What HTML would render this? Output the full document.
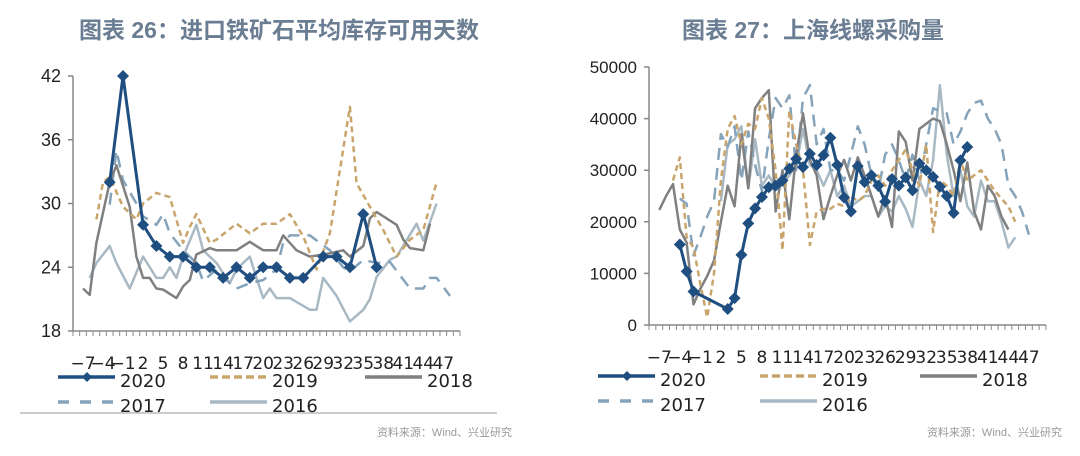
<!DOCTYPE html>
<html><head><meta charset="utf-8">
<style>
body{margin:0;background:#fff;width:1080px;height:456px;overflow:hidden;font-family:"Liberation Sans","Noto Sans CJK SC",sans-serif;}
svg{position:absolute;left:0;top:0;}
</style></head>
<body>
<svg id="root" width="1080" height="456">
  <text x="279" y="38" text-anchor="middle" font-size="23" font-weight="bold" fill="#6a7d92" font-family="Liberation Sans, Noto Sans CJK SC, sans-serif">图表 26：进口铁矿石平均库存可用天数</text>
  <text x="813" y="38" text-anchor="middle" font-size="23" font-weight="bold" fill="#6a7d92" font-family="Liberation Sans, Noto Sans CJK SC, sans-serif">图表 27：上海线螺采购量</text>
  <line x1="20" y1="413" x2="497" y2="413" stroke="#bbb" stroke-width="1.5"/>
  <text x="512" y="436" text-anchor="end" font-size="11" fill="#999" font-family="Liberation Sans, Noto Sans CJK SC, sans-serif">资料来源：Wind、兴业研究</text>
  <text x="1062" y="436" text-anchor="end" font-size="11" fill="#999" font-family="Liberation Sans, Noto Sans CJK SC, sans-serif">资料来源：Wind、兴业研究</text>
  <g id="left"></g>
  <g id="right"></g>
</svg>
<script>
// ---- shared categories ----
const weeks = []; for (let w = -8; w <= 49; w++) weeks.push(w);
const tickWeeks = [-7,-4,-1,2,5,8,11,14,17,20,23,26,29,32,35,38,41,44,47];
const seriesNames = ['2020','2019','2018','2017','2016'];

// ---- left chart data (库存可用天数) ----
const leftTicks = [18,24,30,36,42];
const L2020w = [-3,-1,2,4,6,8,10,12,14,16,18,20,22,24,26,29,31,33,35,37];
const L2020v = [32,42,28,26,25,25,24,24,23,24,23,24,24,23,23,25,25,24,29,24];
const L2019w = [-5,-4,-3,-1,1,2,4,6,8,9,10,12,13,16,18,20,22,24,26,28,30,33,34,36,38,40,42,44,46];
const L2019v = [28.5,32,32.5,29.7,28.5,30,31,30.6,26.3,27.8,29,26.3,26.6,28.1,27.2,28.1,28.1,29,26.9,23.8,27.2,39.1,31.9,29.7,27.5,25,26.6,27.5,32];
const L2018w = [-7,-6,-5,-3,-2,0,1,2,3,4,5,7,8,9,10,12,13,16,18,20,22,23,25,27,30,32,33,35,36,37,40,41,42,44,45];
const L2018v = [22,21.4,26.3,32,33.6,29.7,25,23,23,22,21.9,21.1,22.2,22.8,25.2,25.8,25.6,25.6,26.4,25.6,25.6,27,25.6,25,25.3,25.6,25,26,28.6,29.2,28,26.6,25.8,25.6,28.1];
const L2017w = [-3,-2,-1,1,2,4,5,6,8,10,11,13,15,16,18,20,22,23,24,27,30,32,33,35,37,39,42,44,45,46,48];
const L2017v = [29.9,35,32.2,30,28.8,28,29,27.2,25.6,24.4,22.7,23.8,22.5,22,22.5,22.8,23.8,26.3,27,27,25.6,24,23.6,24.7,24.4,24.5,22,22,23,23,21.3];
const L2016w = [-6,-5,-3,-2,0,2,4,5,6,7,8,10,11,13,15,16,18,19,20,21,22,24,27,28,29,31,33,35,36,37,39,40,43,44,46];
const L2016v = [23,24.4,26,24.4,22,25,23,23,24,23,25,28,25.6,24.4,22.5,23.8,25,23,21.1,22,21.1,21.1,20,20,23,21.3,18.9,20,21,23.1,24.7,25,28.1,26.5,30];

// ---- right chart data (采购量) ----
const rightTicks = [0,10000,20000,30000,40000,50000];
const R2020w = [-4,-3,-2,3,4,5,6,7,8,9,10,11,12,13,14,15,16,17,18,19,20,21,22,23,24,25,26,27,28,29,30,31,32,33,34,35,36,37,38];
const R2020v = [15600,10400,6500,3100,5200,13600,19700,22600,24800,26700,27000,28000,30300,32200,30600,33200,31000,32900,36300,31000,24700,22000,30800,27700,29000,27000,23900,28300,27000,28600,26100,31300,30000,28700,26800,25000,21700,31900,34500];
const R2019w = [-5,-4,-3,-2,-1,0,1,2,3,4,5,6,7,8,9,10,11,12,13,14,15,16,17,18,19,20,21,22,23,24,25,26,27,28,29,30,31,32,33,34,35,36,37,38,39,40,41,42,43,44,45];
const R2019v = [28000,32500,17000,15000,8000,1500,10000,28000,38000,40500,35000,39000,38000,44000,40000,30000,14500,41500,35000,30000,15500,22000,22500,22500,23500,23000,25000,24000,25000,28000,29000,27000,30000,32000,34000,30000,27000,35000,18000,28000,27000,25000,32000,28000,29000,30000,28000,26000,24500,23000,20000];
const R2018w = [-7,-6,-5,-4,-3,-2,-1,0,1,2,3,4,5,6,7,8,9,10,11,12,13,14,15,16,17,18,19,20,21,22,23,24,25,26,27,28,29,30,31,32,33,34,35,36,37,38,39,40,41,42,43,44];
const R2018v = [22300,25000,27300,18500,16000,4000,7000,9500,12500,20000,27000,23000,37000,26500,42000,44000,45500,22000,30000,20500,33000,41000,32000,29000,20500,25000,29000,32000,28000,32500,29000,25000,21000,25000,19000,37500,35500,28000,38000,39000,40000,39500,35000,30000,24000,31500,22000,18500,27000,25000,21000,18500];
const R2017w = [-4,-3,-2,-1,0,1,2,3,4,5,6,7,8,9,10,11,12,13,14,15,16,17,18,19,20,21,22,23,24,25,26,27,28,29,30,31,32,33,34,35,36,37,38,39,40,41,42,43,44,45,46,47];
const R2017v = [24500,23500,13500,17000,21000,24000,37000,34500,38500,28000,37500,31000,26000,36000,44000,42000,44500,30000,44000,46500,35000,38000,30000,30000,28000,33000,38500,35000,29000,26000,33000,35000,32000,28000,33000,28000,35000,42000,41500,41000,35000,37500,41000,43000,43500,40000,38000,35000,27000,25000,22000,17500];
const R2016w = [2,3,4,5,6,7,8,9,10,11,12,13,14,15,16,17,18,19,20,21,22,23,24,25,26,27,28,29,30,31,32,33,34,35,36,37,38,39,40,41,42,43,44,45];
const R2016v = [24000,35000,36000,38500,26500,36000,27000,29000,26500,27000,29000,31000,38000,31000,30000,27000,30000,25000,27000,23000,24000,25000,25000,21000,23000,22000,25000,22500,19000,28000,25000,32000,46500,33000,25000,30000,23000,21000,28000,24000,24000,20000,15000,17000];

const NS = 'http://www.w3.org/2000/svg';
const styles = {
  '2020': {c:'#1f4e80', w:3, dash:null},
  '2019': {c:'#c9a56c', w:2.5, dash:'6,4'},
  '2018': {c:'#808080', w:2.5, dash:null},
  '2017': {c:'#85a3ba', w:2.5, dash:'12,8'},
  '2016': {c:'#a9b9c4', w:2.5, dash:null}
};
function mk(tag, attrs, parent){
  const e = document.createElementNS(NS, tag);
  for (const k in attrs) e.setAttribute(k, attrs[k]);
  parent.appendChild(e); return e;
}
function drawChart(g, cfg){
  const step = (cfg.x1 - cfg.x0) / weeks.length;
  const xs = w => cfg.x0 + (w - weeks[0] + 0.5) * step;
  const ys = v => cfg.yb - (v - cfg.min) / (cfg.max - cfg.min) * (cfg.yb - cfg.yt);
  const ya = mk('line', {x1:cfg.x0, y1:cfg.yt, x2:cfg.x0, y2:cfg.yb, stroke:'#888', 'stroke-width':1.5}, g);
  
  
  cfg.ticks.forEach(t => {
    const tl = mk('line', {x1:cfg.x0-5, y1:ys(t), x2:cfg.x0, y2:ys(t), stroke:'#888', 'stroke-width':1.5}, g);
    
    
    const tx = mk('text', {x:cfg.x0-12, y:ys(t)+6, 'text-anchor':'end', 'font-size':cfg.yfs, fill:'#222'}, g);
    tx.textContent = t;
    
    
  });
  const xa = mk('line', {x1:cfg.x0, y1:cfg.yb, x2:cfg.x1, y2:cfg.yb, stroke:'#888', 'stroke-width':1.5}, g);
  
  
  for (let i = 0; i <= weeks.length; i++) {
    const x = cfg.x0 + i * step;
    const t = mk('line', {x1:x, y1:cfg.yb, x2:x, y2:cfg.yb+5, stroke:'#888', 'stroke-width':1}, g);
    
    
  }
  tickWeeks.forEach(w => {
    const t = mk('text', {x:xs(w), y:cfg.yb+38, 'text-anchor':'middle', 'font-size':17, fill:'#222', 'font-family':'DejaVu Sans, sans-serif'}, g);
    t.textContent = String(w).replace('-', '\u2212');
    
    
  });
  const order = ['2016','2017','2018','2019','2020'];
  order.forEach(name => {
    const s = cfg.series[name], st = styles[name];
    const d = s.w.map((w, i) => (i ? 'L' : 'M') + xs(w).toFixed(1) + ',' + ys(s.v[i]).toFixed(1)).join(' ');
    const attrs = {d:d, fill:'none', stroke:st.c, 'stroke-width':st.w, 'stroke-linejoin':'round'};
    if (st.dash) attrs['stroke-dasharray'] = st.dash;
    const p = mk('path', attrs, g);
    
    
    if (name === '2020') {
      s.w.forEach((w, i) => {
        const x = xs(w), y = ys(s.v[i]), r = 6;
        const m = mk('polygon', {points:`${x},${y-r} ${x+r},${y} ${x},${y+r} ${x-r},${y}`, fill:st.c}, g);
        
        
      });
    }
  });
  const lx = cfg.legX, rowY = [cfg.legY, cfg.legY + 25];
  seriesNames.forEach((name, i) => {
    const col = i % 3, row = Math.floor(i / 3);
    const x = lx[col], y = rowY[row], st = styles[name];
    const la = {x1:x, y1:y, x2:x+57, y2:y, stroke:st.c, 'stroke-width':3.5};
    if (st.dash) la['stroke-dasharray'] = name === '2017' ? '11,11' : '8,4';
    const ln = mk('line', la, g);
    
    
    if (name === '2020') {
      const cx = x + 29, r = 5;
      const m = mk('polygon', {points:`${cx},${y-r} ${cx+r},${y} ${cx},${y+r} ${cx-r},${y}`, fill:st.c}, g);
      
      
    }
    const t = mk('text', {x:x+62, y:y+10, 'font-size':18, fill:'#222', 'font-family':'DejaVu Sans, sans-serif'}, g);
    t.textContent = name;
    
    
  });
}
drawChart(document.getElementById('left'), {
  p:'left', x0:73, x1:460, yt:76, yb:331, min:18, max:42, ticks:leftTicks, yfs:18,
  legX:[58,210,365], legY:377,
  series:{'2020':{w:L2020w,v:L2020v},'2019':{w:L2019w,v:L2019v},'2018':{w:L2018w,v:L2018v},'2017':{w:L2017w,v:L2017v},'2016':{w:L2016w,v:L2016v}}
});
drawChart(document.getElementById('right'), {
  p:'right', x0:649, x1:1046, yt:67, yb:325, min:0, max:50000, ticks:rightTicks, yfs:17,
  legX:[598,760,920], legY:376,
  series:{'2020':{w:R2020w,v:R2020v},'2019':{w:R2019w,v:R2019v},'2018':{w:R2018w,v:R2018v},'2017':{w:R2017w,v:R2017v},'2016':{w:R2016w,v:R2016v}}
});
</script>
</body></html>
